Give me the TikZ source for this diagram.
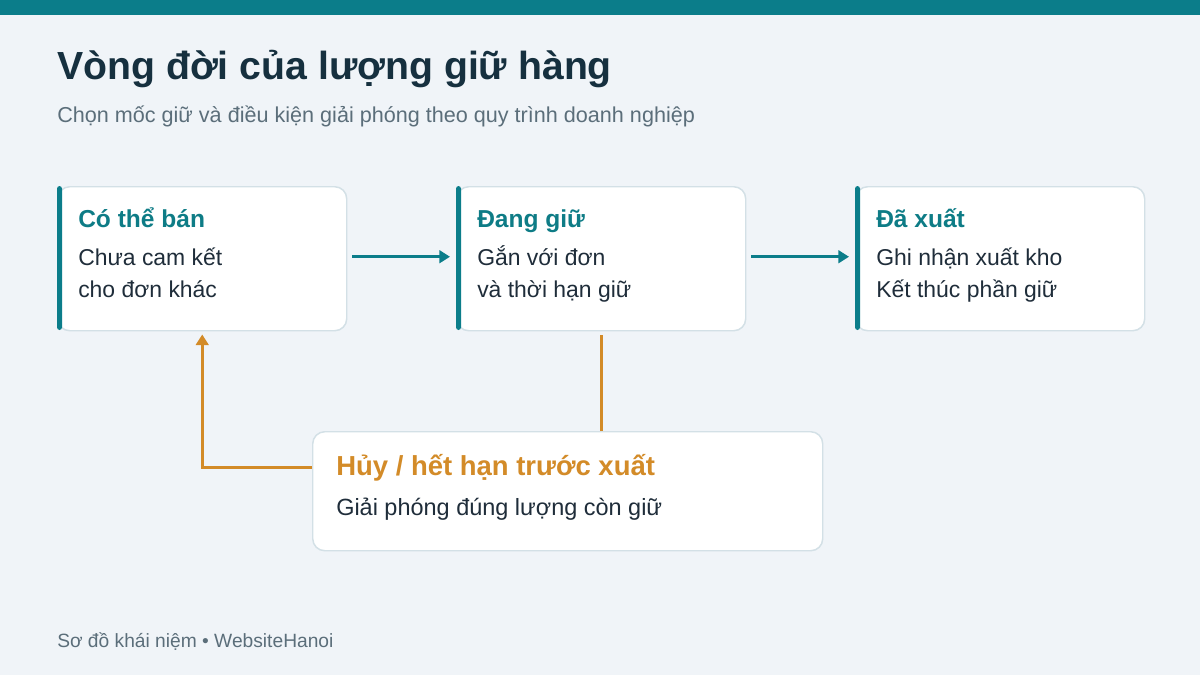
\documentclass[tikz,border=0pt]{standalone}
\usepackage{fontspec}
\setmainfont{Liberation Sans}
\usetikzlibrary{arrows.meta}
\definecolor{bg}{HTML}{F0F4F8}
\definecolor{tealbar}{HTML}{0B7D8A}
\definecolor{tealtxt}{HTML}{0E7C86}
\definecolor{cardline}{HTML}{D3E0E6}
\definecolor{titletxt}{HTML}{16303F}
\definecolor{subtxt}{HTML}{5B6E7A}
\definecolor{bodytxt}{HTML}{1F2D3A}
\definecolor{amber}{HTML}{D38B28}

\begin{document}
\begin{tikzpicture}[x=0.75pt,y=-0.75pt,
  card/.style={draw=cardline, fill=white, line width=1.1pt, rounded corners=9pt, anchor=north west, inner sep=0pt},
  head/.style={anchor=base west, inner sep=0pt, font=\bfseries\fontsize{18.4}{22}\selectfont, text=tealtxt},
  body/.style={anchor=base west, inner sep=0pt, font=\fontsize{17.2}{20}\selectfont, text=bodytxt},
  flow/.style={draw=tealbar, line width=2.2pt, -{Triangle[length=8pt,width=9.5pt]}},
  back/.style={draw=amber, line width=2.2pt}]
% Background and top band
\useasboundingbox (0,0) rectangle (1200,675);
\fill[bg] (0,0) rectangle (1200,675);
\fill[tealbar] (0,0) rectangle (1200,15);
% Heading
\node[anchor=base west, inner sep=0pt, font=\bfseries\fontsize{29.4}{36}\selectfont, text=titletxt] (title) at (57,79) {Vòng đời của lượng giữ hàng};
\node[anchor=base west, inner sep=0pt, font=\fontsize{16.2}{19}\selectfont, text=subtxt] (subtitle) at (57,122) {Chọn mốc giữ và điều kiện giải phóng theo quy trình doanh nghiệp};
% State cards
\foreach \n/\x/\h/\la/\lb in {avail/57/Có thể bán/Chưa cam kết/cho đơn khác, held/456/Đang giữ/Gắn với đơn/và thời hạn giữ, shipped/855/Đã xuất/Ghi nhận xuất kho/Kết thúc phần giữ} {
  \node[card, minimum width=216.75pt, minimum height=108pt] (\n) at (\x,186) {};
  \fill[tealbar, rounded corners=2pt] (\x,186) rectangle (\x+5,330);
  \node[head] (\n-h) at (\x+21,227) {\h};
  \node[body] (\n-a) at (\x+21,265) {\la};
  \node[body] (\n-b) at (\x+21,297) {\lb};
}
% Release card
\node[card, minimum width=382.5pt, minimum height=89.25pt] (release) at (312,431) {};
\node[head, text=amber, font=\bfseries\fontsize{20.6}{24}\selectfont] (release-h) at (336,475) {Hủy / hết hạn trước xuất};
\node[body, font=\fontsize{17.6}{20}\selectfont] (release-a) at (336,515) {Giải phóng đúng lượng còn giữ};
% Connectors
\draw[flow, shorten <=3.75pt, shorten >=4.5pt] ([yshift=1.5pt]avail.east) -- ([yshift=1.5pt]held.west);
\draw[flow, shorten <=3.75pt, shorten >=4.5pt] ([yshift=1.5pt]held.east) -- ([yshift=1.5pt]shipped.west);
\draw[back, shorten <=3pt] (held.south) -- (held.south |- release.north);
\draw[back, -{Triangle[length=8pt,width=9.5pt]}, shorten >=2.25pt] (release.west |- release-h.west) -| (avail.south);
% Footer
\node[anchor=base west, inner sep=0pt, font=\fontsize{14.4}{17}\selectfont, text=subtxt] (footer) at (57,647) {Sơ đồ khái niệm • WebsiteHanoi};
\end{tikzpicture}
\end{document}
